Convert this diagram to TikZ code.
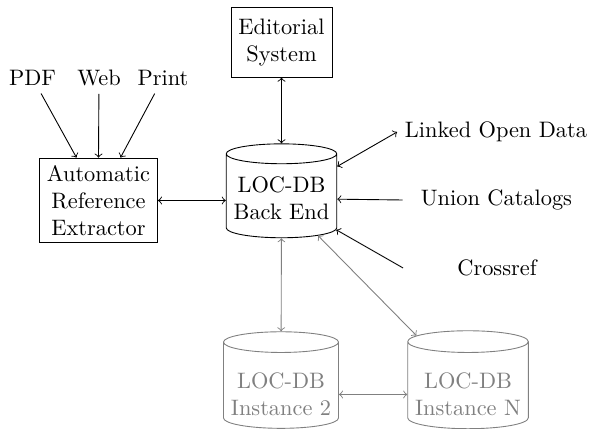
\documentclass[tikz,border=0pt]{standalone}
\usetikzlibrary{shapes.geometric,calc}
\begin{document}
\begin{tikzpicture}[x=0.4472pt,y=-0.4472pt,
  box/.style={draw,align=center},
  db/.style={draw,shape=cylinder,shape border rotate=90,shape aspect=0.18,minimum height=42pt,align=center},
  dbg/.style={db,draw=gray,text=gray},
  txt/.style={align=center},
  conn/.style={<->},
  conng/.style={<->,draw=gray}]
\useasboundingbox (0,0) rectangle (591,429);
\node[box,minimum height=31pt] (ED) at (281.5,42.5) {Editorial\\System};
\node[box] (ARE) at (98.5,200.5) {Automatic\\Reference\\Extractor};
\node[db] (BE) at (281.5,198.5) {LOC-DB\\Back End};
\node[txt] (PDF) at (32.5,78) {PDF};
\node[txt] (Web) at (99,78) {Web};
\node[txt] (Print) at (163,78) {Print};
\node[txt] (LOD) at (496,132) {Linked Open Data};
\node[txt,minimum width=83.6pt] (UC) at (496.5,200) {Union Catalogs};
\node[txt,minimum width=83.6pt] (CR) at (497,268) {Crossref};
\node[dbg] (I2) at (281,388) {\rule{0pt}{12.6pt}LOC-DB\\Instance 2};
\node[dbg] (IN) at (468,388) {\rule{0pt}{12.6pt}LOC-DB\\Instance N};
\coordinate (aL) at ($(ARE.north)+(-22,0)$);
\coordinate (aM) at (ARE.north);
\coordinate (aR) at ($(ARE.north)+(22,0)$);
\draw[->] (PDF) -- (aL);
\draw[->] (Web) -- (aM);
\draw[->] (Print) -- (aR);
\draw[conn] (ARE) -- (ARE -| BE.west);
\draw[conn] (ED) -- (BE);
\draw[conn] (BE) -- (LOD.west);
\draw[->] (UC.west) -- (BE);
\draw[->] (CR.west) -- (BE);
\draw[conng] (BE) -- (I2);
\draw[conng] (BE) -- (IN);
\draw[conng] ([yshift=-2.9pt]I2.east) -- ([yshift=-2.9pt]IN.west);
\end{tikzpicture}
\end{document}
